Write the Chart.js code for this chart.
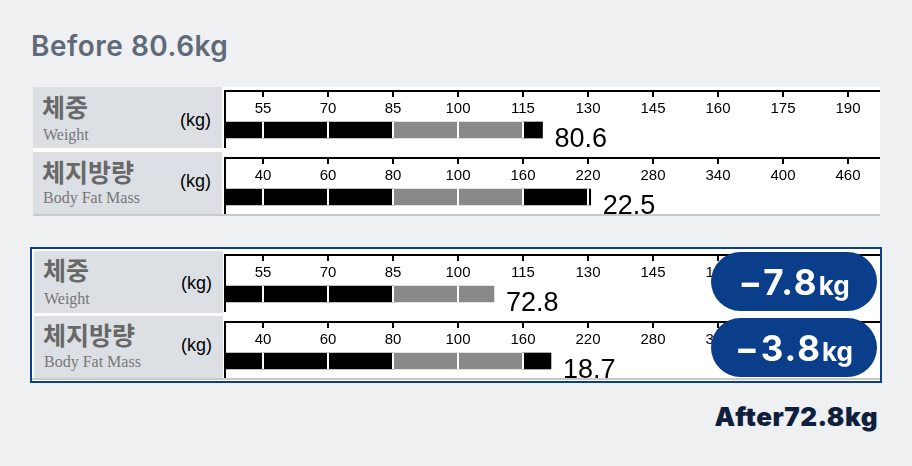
<!DOCTYPE html>
<html>
<head>
<meta charset="utf-8">
<script src="https://cdn.jsdelivr.net/npm/chart.js@4.4.1/dist/chart.umd.min.js"></script>
<style>
    body { margin: 0; width: 912px; height: 466px; background: #eff0f2; position: relative; overflow: hidden; font-family: 'Liberation Sans', Arial, sans-serif; }
    .abs { position: absolute; }
    .title { font-family: Inter, 'Noto Sans', sans-serif; white-space: nowrap; }
    .panel { background: #fff; }
    .label-box { position: absolute; background: #dcdfe4; width: 189px; }
    .ko { position: absolute; left: 9px; font-family: 'Noto Sans CJK KR', sans-serif; font-weight: 700; font-size: 25px; line-height: 25px; color: #686868; white-space: nowrap; }
    .en { position: absolute; left: 10px; font-family: 'Liberation Serif', serif; font-size: 16px; line-height: 16px; color: #777; white-space: nowrap; }
    .unit { position: absolute; left: 147px; font-size: 18px; line-height: 18px; color: #000; }
    canvas { position: absolute; left: 223px; }
    .badge { position: absolute; left: 711px; width: 166px; height: 59px; border-radius: 30px; background: #0a3d8a; color: #fff;
             display: flex; justify-content: center; align-items: center; font-family: Inter, 'Noto Sans', sans-serif; font-weight: 700; z-index: 2; }
    .badge .num { font-size: 35px; letter-spacing: 2px; }
    .badge .kg { font-size: 26px; }
</style>
</head>
<body>

<div class="abs title" id="title-before" style="left:31px; top:29px; font-size:28px; letter-spacing:0.5px; font-weight:600; color:#5f6a7a;"></div>

<!-- before -->
<div class="abs panel" style="left:33px; top:87px; width:847px; height:127px;"></div>
<div class="abs" style="left:33px; top:214px; width:847px; height:2px; background:#c9c9c9;"></div>
<div class="label-box" style="left:33px; top:87px; height:61px;">
    <div class="ko" style="top:7px;">체중</div>
    <div class="en" style="top:40px;">Weight</div>
    <div class="unit" style="top:24px;">(kg)</div>
</div>
<div class="label-box" style="left:33px; top:152px; height:62px;">
    <div class="ko" style="top:7px;">체지방량</div>
    <div class="en" style="top:38px;">Body Fat Mass</div>
    <div class="unit" style="top:20px;">(kg)</div>
</div>
<canvas id="before-weight" width="657" height="60" style="top:88px;"></canvas>
<canvas id="before-fat" width="657" height="59" style="top:155px;"></canvas>

<!-- after -->
<div class="abs panel" style="left:30px; top:247px; width:852px; height:136px; box-sizing:border-box; border:2px solid #0c3f8a;"></div>
<div class="abs" style="left:32px; top:378px; width:848px; height:2px; background:#c9c9c9;"></div>
<div class="label-box" style="left:34px; top:251px; height:62px;">
    <div class="ko" style="top:6px;">체중</div>
    <div class="en" style="top:40px;">Weight</div>
    <div class="unit" style="top:23px;">(kg)</div>
</div>
<div class="label-box" style="left:34px; top:316px; height:62px;">
    <div class="ko" style="top:6px;">체지방량</div>
    <div class="en" style="top:38px;">Body Fat Mass</div>
    <div class="unit" style="top:20px;">(kg)</div>
</div>
<canvas id="after-weight" width="657" height="60" style="top:252px;"></canvas>
<canvas id="after-fat" width="657" height="59" style="top:319px;"></canvas>

<div class="badge" id="badge-weight" style="top:252px;"></div>
<div class="badge" id="badge-fat" style="top:318px;"></div>

<div class="abs title" id="title-after" style="right:34px; top:401px; font-size:26px; letter-spacing:0.5px; font-weight:900; color:#0f1f3d;"></div>

<script>
    // ------------------- Data ------------------
    const weightTicks = [55, 70, 85, 100, 115, 130, 145, 160, 175, 190];
    const fatTicks = [40, 60, 80, 100, 160, 220, 280, 340, 400, 460];
    const weightNormal = [85, 115];
    const fatNormal = [80, 160];
    const weightKg = [80.6, 72.8];       // before, after
    const fatKg = [22.5, 18.7];
    const weightPct = [119.5, 108.3];    // bar length (% of standard)
    const fatPct = [222.5, 185.8];

    Chart.defaults.font.family = "'Liberation Sans', Arial, sans-serif";

    const AXIS_H = 3;
    const X_MIN = -38 / 65;
    const X_MAX = X_MIN + 655 / 65;
    const BAR_Y = 39;

    // tick i of the scale sits at axis position i, values in between are linear
    function toAxis(value, ticks) {
        if (value <= ticks[0]) return (value - ticks[0]) / (ticks[1] - ticks[0]);
        for (let i = 1; i < ticks.length; i++) {
            if (value <= ticks[i]) return i - 1 + (value - ticks[i - 1]) / (ticks[i] - ticks[i - 1]);
        }
        const n = ticks.length - 1;
        return n + (value - ticks[n]) / (ticks[n] - ticks[n - 1]);
    }

    // ------------------- Gaps + value label ------------------
    const barDecor = {
        id: 'barDecor',
        afterDatasetsDraw(chart, args, opts) {
            const ctx = chart.ctx;
            const x = chart.scales.x;
            const metas = chart.getSortedVisibleDatasetMetas();
            const bar = metas[metas.length - 1].data[0];
            const top = bar.y - bar.height / 2;
            ctx.save();
            ctx.fillStyle = '#fff';
            x.ticks.forEach(t => {
                const px = x.getPixelForValue(t.value);
                if (px < bar.x) ctx.fillRect(px - 1, top, 2, bar.height);
            });
            ctx.fillStyle = '#000';
            ctx.font = "27px 'Liberation Sans', Arial";
            ctx.textBaseline = 'alphabetic';
            ctx.fillText(opts.kg.toFixed(1), bar.x + 12, bar.y + 17);
            ctx.restore();
        }
    };

    function rowChart(id, ticks, normal, pct, kg) {
        const canvas = document.getElementById(id);
        const end = toAxis(pct, ticks);
        const lo = toAxis(normal[0], ticks);
        const hi = toAxis(normal[1], ticks);
        const segments = [
            { from: X_MIN, to: Math.min(end, lo), color: '#000' },
            { from: lo, to: Math.min(end, hi), color: '#898989' },
            { from: hi, to: end, color: '#000' }
        ].filter(s => s.to > s.from);

        const data = {
            datasets: segments.map(s => ({
                data: [{ x: [s.from, s.to], y: BAR_Y }],
                backgroundColor: s.color,
                borderWidth: 0,
                barThickness: 16,
                grouped: false
            }))
        };

        // ------------------- Chart Options ------------------
        const chartOptions = {
            indexAxis: 'y',
            responsive: false,
            animation: false,
            layout: { padding: { left: 2, top: 0, right: 0, bottom: 0 } },
            plugins: {
                legend: { display: false },
                tooltip: { enabled: false },
                barDecor: { kg: kg }
            },
            scales: {
                x: {
                    type: 'linear',
                    position: 'top',
                    min: X_MIN,
                    max: X_MAX,
                    offset: false,
                    afterFit: s => { s.height = AXIS_H; },
                    border: { display: true, color: '#000', width: 2 },
                    grid: { drawOnChartArea: false, drawTicks: true, tickLength: -6, color: '#000', lineWidth: 2 },
                    ticks: {
                        stepSize: 1,
                        includeBounds: false,
                        autoSkip: false,
                        maxRotation: 0,
                        mirror: true,       // labels go under the line, and are not clipped to the thin axis box
                        padding: 9,
                        color: '#000',
                        font: { size: 15 },
                        callback: v => Number.isInteger(v) ? ticks[v] : ''
                    }
                },
                y: {
                    type: 'linear',
                    reverse: true,
                    min: 0,
                    max: canvas.height - AXIS_H,
                    offset: false,
                    border: { display: true, color: '#000', width: 2 },
                    grid: { display: false, drawTicks: false },
                    ticks: { display: false }
                }
            }
        };

        // ------------------- Initialize Chart ------------------
        return new Chart(canvas, {
            type: 'bar',
            data: data,
            options: chartOptions,
            plugins: [barDecor]
        });
    }

    rowChart('before-weight', weightTicks, weightNormal, weightPct[0], weightKg[0]);
    rowChart('before-fat', fatTicks, fatNormal, fatPct[0], fatKg[0]);
    rowChart('after-weight', weightTicks, weightNormal, weightPct[1], weightKg[1]);
    rowChart('after-fat', fatTicks, fatNormal, fatPct[1], fatKg[1]);

    // ------------------- Titles / badges ------------------
    function delta(arr) {
        return (arr[1] - arr[0]).toFixed(1).replace('-', '\u2212');
    }
    document.getElementById('title-before').textContent = 'Before ' + weightKg[0].toFixed(1) + 'kg';
    document.getElementById('title-after').textContent = 'After' + weightKg[1].toFixed(1) + 'kg';
    document.getElementById('badge-weight').innerHTML = '<span><span class="num">' + delta(weightKg) + '</span><span class="kg">kg</span></span>';
    document.getElementById('badge-fat').innerHTML = '<span><span class="num">' + delta(fatKg) + '</span><span class="kg">kg</span></span>';
</script>
</body>
</html>
